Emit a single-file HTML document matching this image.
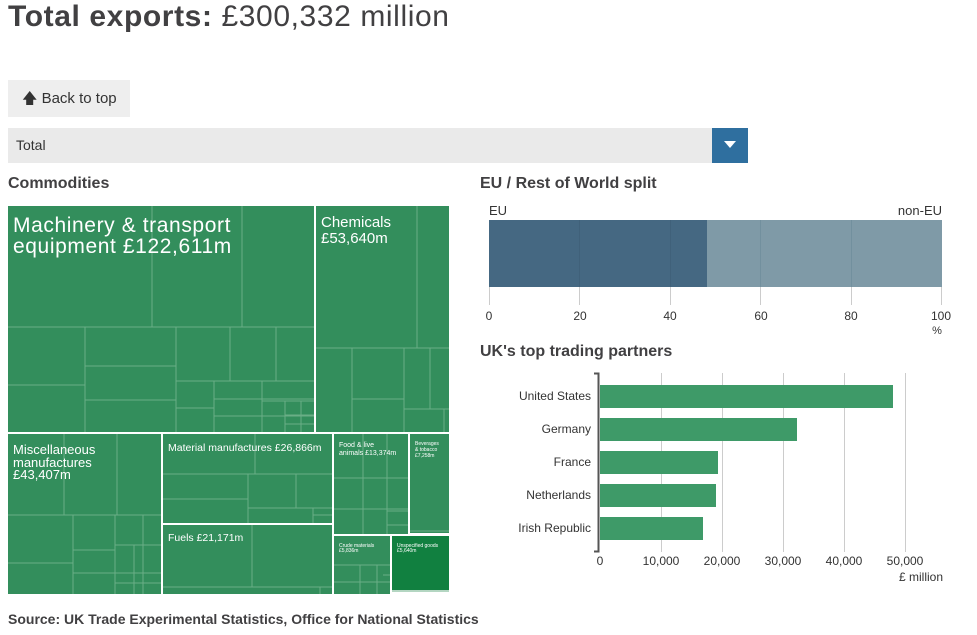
<!DOCTYPE html>
<html><head><meta charset="utf-8"><style>
body{margin:0;width:977px;height:635px;background:#fff;font-family:"Liberation Sans",sans-serif;color:#414042;position:relative;overflow:hidden}
.a{position:absolute;white-space:nowrap}
</style></head><body>
<div class="a" style="left:8px;top:-1px;font-size:30px;letter-spacing:0.6px;line-height:36px;color:#414042"><b>Total exports:</b> £300,332 million</div>
<div class="a" style="left:8px;top:80px;width:122px;height:37px;background:#eeeeee;font-size:15px;line-height:37px;text-indent:14px;color:#333">🡅 Back to top</div>
<div class="a" style="left:8px;top:128px;width:704px;height:35px;background:#eaeaea;font-size:14px;line-height:35px;text-indent:8px;color:#333">Total</div>
<div class="a" style="left:712px;top:128px;width:36px;height:35px;background:#2f6f9f"></div>
<svg class="a" style="left:724px;top:141px" width="12" height="8"><polygon points="0,0 12,0 6,7" fill="#fff"/></svg>
<div class="a" style="left:8px;top:174px;font-size:16px;font-weight:bold;line-height:20px">Commodities</div>
<div class="a" style="left:480px;top:174px;font-size:16px;font-weight:bold;line-height:20px">EU / Rest of World split</div>
<div class="a" style="left:480px;top:342px;font-size:16px;font-weight:bold;line-height:20px">UK's top trading partners</div>
<div class="a" style="left:8px;top:609px;font-size:14px;font-weight:bold;line-height:20px">Source: UK Trade Experimental Statistics, Office for National Statistics</div>

<svg class="a" style="left:0;top:0" width="977" height="635" font-family="Liberation Sans, sans-serif">
<g fill="#338e5c">
<rect x="8" y="206" width="306" height="226"/>
<rect x="316" y="206" width="133" height="226"/>
<rect x="8" y="434" width="153" height="160"/>
<rect x="163" y="434" width="169" height="89"/>
<rect x="163" y="525" width="169" height="69"/>
<rect x="334" y="434" width="74" height="100"/>
<rect x="410" y="434" width="39" height="99"/>
<rect x="334" y="536" width="56" height="58"/>
</g>
<rect x="392" y="536" width="57" height="54" fill="#118040"/>
<g stroke="#6aae86" stroke-width="1" fill="none">
<path d="M152 206V327M242 206V327M8 327H314M85 327V432M176 327V432M230 327V381M276 327V381M8 385H85M85 366H176M85 400H176M176 381H314M214 381V432M262 381V432M176 408H214M214 399H314M214 416H314M262 401H314M285 401V432M301 401V432M285 415H314M285 424H314"/>
<path d="M417 206V348M316 348H449M352 348V432M404 348V432M430 348V409M352 399H404M404 409H449M444 409V432"/>
<path d="M64 434V515M117 434V515M8 515H161M73 515V594M115 515V594M143 515V594M8 563H73M73 550H115M73 573H115M115 545H161M134 545V594M115 573H161M115 583H161"/>
<path d="M255 434V474M163 474H332M248 474V523M163 499H248M296 474V508M248 508H332M313 508V523M313 515H332"/>
<path d="M252 525V587M163 587H332M320 587V594"/>
<path d="M334 478H408M363 434V534M387 434V534M363 509H408M387 511H408M387 525H408M334 509H363"/>
<path d="M334 565H390M360 565V594M377 565V594M334 582H390M383 575H390"/>
<path d="M410 531H449M392 591H449"/>
</g>
<g fill="#fff">
<text x="13" y="232" font-size="21" letter-spacing="0.6">Machinery &amp; transport</text>
<text x="13" y="253" font-size="21" letter-spacing="0.6">equipment £122,611m</text>
<text x="321" y="227" font-size="15">Chemicals</text>
<text x="321" y="243" font-size="15">£53,640m</text>
<text x="13" y="454" font-size="13">Miscellaneous</text>
<text x="13" y="467" font-size="13">manufactures</text>
<text x="13" y="479" font-size="13">£43,407m</text>
<text x="168" y="451" font-size="10.5">Material manufactures £26,866m</text>
<text x="168" y="541" font-size="10.5">Fuels £21,171m</text>
<text x="339" y="447" font-size="7">Food &amp; live</text>
<text x="339" y="455" font-size="7">animals £13,374m</text>
<text x="415" y="445" font-size="5">Beverages</text>
<text x="415" y="451" font-size="5">&amp; tobacco</text>
<text x="415" y="457" font-size="5">£7,258m</text>
<text x="339" y="547" font-size="5">Crude materials</text>
<text x="339" y="552" font-size="5">£5,836m</text>
<text x="397" y="547" font-size="5">Unspecified goods</text>
<text x="397" y="552" font-size="5">£5,640m</text>
</g>

<text x="489" y="215" font-size="13" fill="#333">EU</text>
<text x="942" y="215" font-size="13" fill="#333" text-anchor="end">non-EU</text>
<g stroke="#ccc"><path d="M489.5 220V305M579.5 220V305M670.5 220V305M760.5 220V305M851.5 220V305M941.5 220V305"/></g>
<rect x="489" y="220" width="218" height="67" fill="#456882"/>
<rect x="707" y="220" width="235" height="67" fill="#7f9aa7"/>
<g stroke="#3e5d75" stroke-opacity=".6"><path d="M579.5 220V287M670.5 220V287"/></g>
<g stroke="#72909e"><path d="M760.5 220V287M851.5 220V287"/></g>
<g font-size="12" fill="#333" text-anchor="middle">
<text x="489" y="320">0</text><text x="580" y="320">20</text><text x="670" y="320">40</text><text x="761" y="320">60</text><text x="851" y="320">80</text><text x="941" y="320">100</text>
<text x="937" y="334" font-size="11">%</text>
</g>

<g stroke="#ccc"><path d="M661.5 373V552M722.5 373V552M783.5 373V552M844.5 373V552M905.5 373V552"/></g>
<g fill="#3e9a68">
<rect x="600" y="385" width="293" height="23"/>
<rect x="600" y="418" width="197" height="23"/>
<rect x="600" y="451" width="118" height="23"/>
<rect x="600" y="484" width="116" height="23"/>
<rect x="600" y="517" width="103" height="23"/>
</g>
<path d="M594 373.5H598.5V551.5H594" stroke="#555" stroke-width="2" fill="none"/>
<g font-size="12" fill="#333" text-anchor="end">
<text x="591" y="400">United States</text>
<text x="591" y="433">Germany</text>
<text x="591" y="466">France</text>
<text x="591" y="499">Netherlands</text>
<text x="591" y="532">Irish Republic</text>
</g>
<g font-size="12" fill="#333" text-anchor="middle">
<text x="600" y="565">0</text><text x="661" y="565">10,000</text><text x="722" y="565">20,000</text><text x="783" y="565">30,000</text><text x="844" y="565">40,000</text><text x="905" y="565">50,000</text>
<text x="921" y="581">£ million</text>
</g>
</svg>
</body></html>
